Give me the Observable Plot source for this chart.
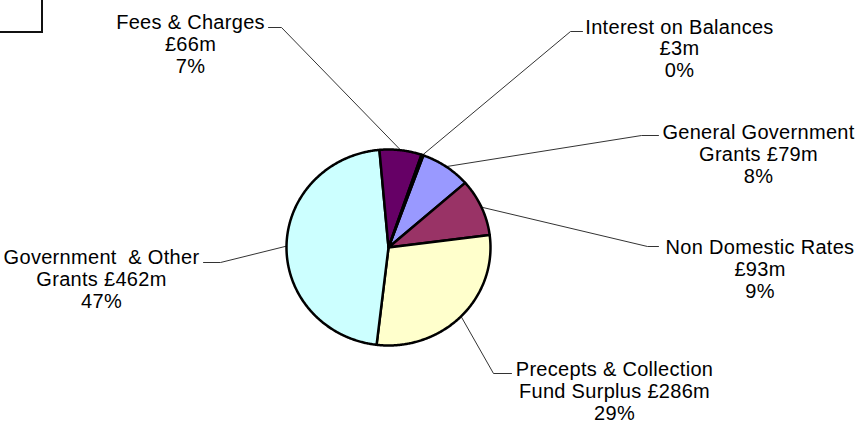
<!DOCTYPE html>
<html><head><meta charset="utf-8">
<script src="https://cdn.jsdelivr.net/npm/d3@7"></script>
<script src="https://cdn.jsdelivr.net/npm/@observablehq/plot@0.6"></script>
<style>
body{margin:0;background:#fff;position:relative;width:858px;height:423px;overflow:hidden}
#box{position:absolute;left:-10px;top:-10px;width:53px;height:43px;box-sizing:border-box;border:2px solid #111}
svg text{white-space:pre;letter-spacing:0.3px}
</style></head><body>
<div id="chart"></div><div id="box"></div>
<script>
// ---- data ----
const categories = ["General Government Grants", "Non Domestic Rates", "Precepts & Collection Fund Surplus", "Government & Other Grants", "Fees & Charges", "Interest on Balances"];
const values = [79, 93, 286, 462, 66, 3];
const labelNames = ["General Government\nGrants ", "Non Domestic Rates\n", "Precepts & Collection\nFund Surplus ", "Government  & Other\nGrants ", "Fees & Charges\n", "Interest on Balances\n"];
const colors = ["#9999FF", "#993366", "#FFFFCC", "#CCFFFF", "#660066", "#FF8080"];

// ---- layout ----
const cx = 388, cy = 247, rx = 102, ry = 98, startDeg = 20;
const labelPos = [
  {x: 758, y: 123.5, elbow: [641, 135], end: [658, 135]},
  {x: 759.5, y: 238.5, elbow: [647, 246], end: [658, 246]},
  {x: 614, y: 360.5, elbow: [493, 373], end: [511, 373]},
  {x: 101, y: 248.5, elbow: [220, 262], end: [203, 262]},
  {x: 190, y: 13.5, elbow: [281, 27], end: [268, 27]},
  {x: 679, y: 18, elbow: [570, 31], end: [582, 31]}
];

const total = d3.sum(values);
const a0 = startDeg * Math.PI / 180;
const arcs = d3.pie().sort(null).startAngle(a0).endAngle(a0 + 2 * Math.PI)(values);
const pt = a => [cx + rx * Math.sin(a), cy - ry * Math.cos(a)];

const slices = arcs.flatMap((p, i) => {
  const n = Math.max(2, Math.ceil((p.endAngle - p.startAngle) / (Math.PI / 360)));
  const pts = [{cat: categories[i], x: cx, y: cy}];
  for (let k = 0; k <= n; k++) {
    const [x, y] = pt(p.startAngle + (p.endAngle - p.startAngle) * k / n);
    pts.push({cat: categories[i], x, y});
  }
  return pts;
});

const leaders = arcs.flatMap((p, i) => {
  const [mx, my] = pt((p.startAngle + p.endAngle) / 2);
  const L = labelPos[i];
  return [
    {cat: categories[i], x: mx, y: my},
    {cat: categories[i], x: L.elbow[0], y: L.elbow[1]},
    {cat: categories[i], x: L.end[0], y: L.end[1]}
  ];
});

const labels = categories.map((c, i) => ({
  x: labelPos[i].x, y: labelPos[i].y,
  text: `${labelNames[i]}£${values[i]}m\n${Math.round(values[i] / total * 100)}%`
}));

const chart = Plot.plot({
  width: 858, height: 423, margin: 0,
  x: {domain: [0, 858], range: [0, 858], axis: null},
  y: {domain: [0, 423], range: [0, 423], axis: null},
  color: {domain: categories, range: colors},
  marks: [
    Plot.line(leaders, {x: "x", y: "y", z: "cat", stroke: "#333", strokeWidth: 1}),
    Plot.line(slices, {x: "x", y: "y", z: "cat", fill: "cat", stroke: "#000", strokeWidth: 2.5, curve: "linear-closed", strokeLinejoin: "round"}),
    Plot.text(labels, {x: "x", y: "y", text: "text", fontSize: 20, lineAnchor: "top", lineHeight: 1.08, textAnchor: "middle", fill: "#000", fontFamily: "Liberation Sans, Arial, sans-serif"})
  ]
});
document.getElementById("chart").appendChild(chart);
</script>
</body></html>
